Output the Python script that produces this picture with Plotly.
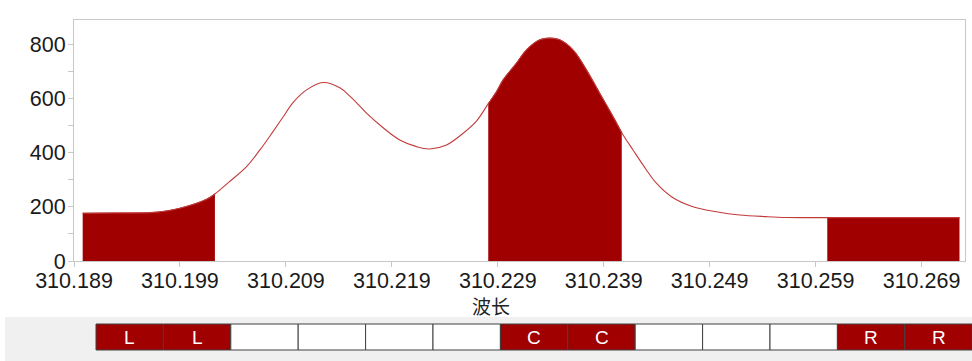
import numpy as np
import plotly.graph_objects as go

# ---- data ----
wavelength = [310.18982, 310.19287, 310.19617, 310.19775, 310.19900, 310.20058, 310.20152,
              310.20230, 310.20356, 310.20529, 310.20655, 310.20780, 310.20875,
              310.20969, 310.21095, 310.21252, 310.21409, 310.21504, 310.21598, 310.21661,
              310.21818, 310.21975, 310.22133, 310.22258, 310.22416, 310.22573, 310.22699,
              310.22809, 310.22888, 310.22950, 310.23076, 310.23171, 310.23296, 310.23391,
              310.23485, 310.23610, 310.23737, 310.23862, 310.23988, 310.24073, 310.24176,
              310.24303, 310.24397, 310.24539, 310.24742, 310.24963, 310.25183, 310.25435,
              310.25624, 310.26016, 310.26600, 310.27258]
intensity = [176.7, 177.5, 178.9, 185.2, 195.2, 213.7, 228.5,
             248.1, 290.0, 349.3, 411.1, 480.0, 534.0,
             587.0, 633.3, 660.4, 641.0, 610.0, 573.0, 547.0,
             493.0, 448.1, 423.3, 414.8, 429.6, 473.0, 518.0,
             581.5, 627.0, 670.4, 732.2, 781.5, 818.5, 824.8,
             818.5, 781.5, 707.4, 621.1, 534.4, 473.0, 411.1,
             337.0, 287.8, 238.1, 201.1, 182.6, 170.4, 164.1,
             161.0, 160.4, 160.4, 160.4]

# integration windows (left background, center peak, right background)
region_starts = [310.18982, 310.2281, 310.2601]
region_ends = [310.2023, 310.2407, 310.27258]

strip_labels = ["L", "L", "", "", "", "", "C", "C", "", "", "", "R", "R"]
x_tick_start = 310.189
x_tick_step = 0.01

FILL = "#a00000"
LINE = "#c23b3b"
AXIS = "#c8c8c8"
FONT = "Liberation Sans, Arial, sans-serif"

wl = np.array(wavelength)
it = np.array(intensity)

fig = go.Figure()

# filled regions
for a, b in zip(region_starts, region_ends):
    inside = (wl > a) & (wl < b)
    xs = np.concatenate([[a], wl[inside], [b]])
    ys = np.interp(xs, wl, it)
    fig.add_trace(go.Scatter(x=xs, y=ys, mode="lines", fill="tozeroy",
                             fillcolor=FILL, line=dict(color=FILL, width=1),
                             line_shape="spline", hoverinfo="skip", showlegend=False))

# spectrum line
fig.add_trace(go.Scatter(x=wl, y=it, mode="lines", line=dict(color=LINE, width=1.1),
                         line_shape="spline", hoverinfo="skip", showlegend=False))

# ---- layout ----
L, R, T, B = 74, 7, 20, 100
W, H = 972, 361
pw = W - L - R
ph = H - T - B

def px_x(px):
    return (px - L) / pw

def px_y(py):
    return (H - B - py) / ph

shapes = []
annotations = []
# gray strip at bottom
shapes.append(dict(type="rect", xref="paper", yref="paper",
                   x0=px_x(5), x1=px_x(975), y0=px_y(317), y1=px_y(362),
                   fillcolor="#f0f0f0", line=dict(width=0), layer="below"))
cell_w = 67.4
for i, lab in enumerate(strip_labels):
    x0 = 96 + i * cell_w
    x1 = x0 + cell_w
    shapes.append(dict(type="rect", xref="paper", yref="paper",
                       x0=px_x(x0), x1=px_x(x1), y0=px_y(350), y1=px_y(324),
                       fillcolor=FILL if lab else "white",
                       line=dict(color="#404040", width=1)))
    if lab:
        annotations.append(dict(xref="paper", yref="paper", x=px_x((x0 + x1) / 2),
                                y=px_y(337), text=lab, showarrow=False,
                                font=dict(family=FONT, size=19, color="white"),
                                xanchor="center", yanchor="middle"))

annotations.append(dict(xref="paper", yref="paper", x=px_x(491), y=px_y(305),
                        text="波长", showarrow=False,
                        font=dict(family="Noto Sans CJK SC", size=19, color="#222"),
                        xanchor="center", yanchor="middle"))

n_ticks = 9
xtickvals = [x_tick_start + k * x_tick_step for k in range(n_ticks)]

fig.update_layout(
    width=W, height=H,
    margin=dict(l=L, r=R, t=T, b=B),
    paper_bgcolor="white", plot_bgcolor="white",
    shapes=shapes, annotations=annotations,
    font=dict(family=FONT, size=21, color="#1a1a1a"),
)
fig.update_xaxes(range=[310.189, 310.2731], tickvals=xtickvals,
                 ticktext=["%.3f" % v for v in xtickvals],
                 showgrid=False, zeroline=False, showline=True, linecolor=AXIS,
                 linewidth=1, mirror=True, ticks="outside", ticklen=5, tickcolor=AXIS,
                 ticklabelstandoff=-5,
                 tickfont=dict(size=21.5))
fig.update_yaxes(range=[0, 892], tickvals=[0, 200, 400, 600, 800],
                 showgrid=False, zeroline=False, showline=True, linecolor=AXIS,
                 linewidth=1, mirror=True, ticks="outside", ticklen=5, tickcolor=AXIS,
                 ticklabelstandoff=-2,
                 minor=dict(tickvals=[100, 300, 500, 700], ticks="outside", ticklen=5,
                            tickcolor=AXIS),
                 tickfont=dict(size=21.5))

fig.write_html("out.html", config={"displayModeBar": False},
               post_script="document.body.style.margin='0';document.body.style.overflow='hidden';")
